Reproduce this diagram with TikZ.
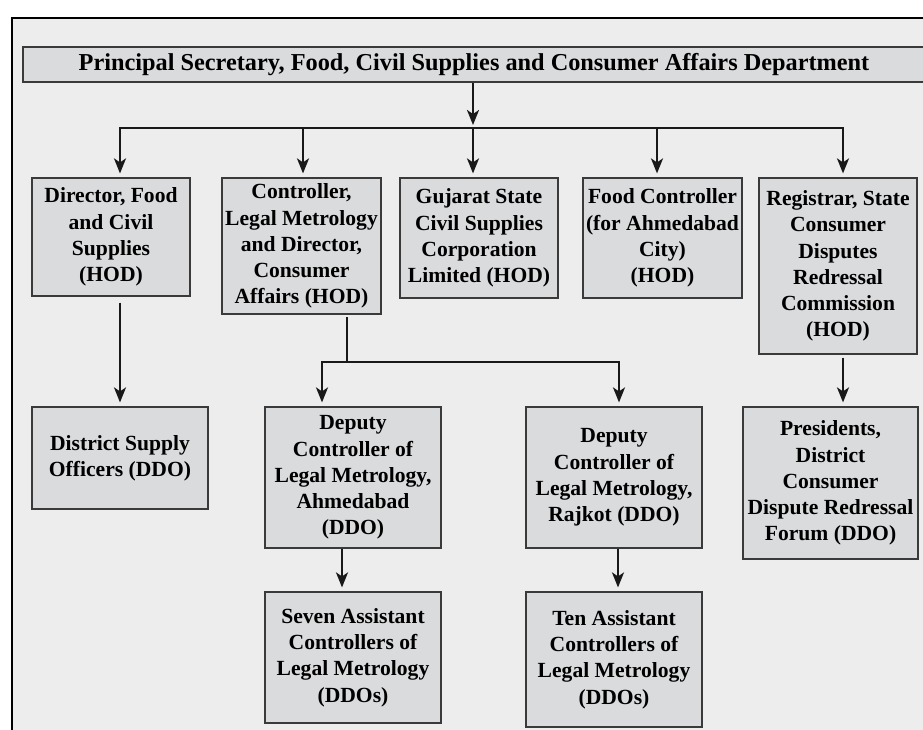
\documentclass[tikz,border=0pt]{standalone}
\usepackage{fontspec}
\setmainfont{Liberation Serif}
\usepackage{tikz}
\usetikzlibrary{arrows.meta}
\definecolor{pagegray}{HTML}{EDEDED}
\definecolor{boxgray}{HTML}{DADBDD}
\definecolor{edgegray}{HTML}{3A3A3A}
\tikzset{
    office/.style={draw=edgegray, fill=boxgray, line width=1.2pt, inner sep=0pt, align=center,
        font=\fontsize{21.6}{26.2}\selectfont\bfseries},
    link/.style={line width=2.2pt, draw=black!90, line cap=rect},
    arr/.style={line width=2.2pt, draw=black!90, -{Stealth[length=15pt, width=12pt, inset=4pt]},
        shorten >=4pt}}

\begin{document}
\begin{tikzpicture}[x=1pt, y=-1pt]

            \useasboundingbox (0,0) rectangle (923,729);
            \clip (0,0) rectangle (923,729);
            \draw[line width=2pt, fill=pagegray] (12,18) rectangle (945,750);

            \node[office, minimum width=902pt, minimum height=35pt, font=\fontsize{24.3}{28}\selectfont\bfseries] (P) at (474,64.5) {Principal Secretary, Food, Civil Supplies and Consumer Affairs Department};

            \node[office, minimum width=158pt, minimum height=118pt] (A) at (111,237) {Director, Food\\and Civil\\Supplies\\(HOD)};
            \node[office, minimum width=159pt, minimum height=136pt] (B) at (301.5,246) {Controller,\\Legal Metrology\\and Director,\\Consumer\\Affairs (HOD)};
            \node[office, minimum width=158pt, minimum height=120pt] (C) at (479,238) {Gujarat State\\Civil Supplies\\Corporation\\Limited (HOD)};
            \node[office, minimum width=159pt, minimum height=120pt] (D) at (662.5,238) {Food Controller\\(for Ahmedabad\\City)\\(HOD)};
            \node[office, minimum width=158pt, minimum height=176pt] (E) at (838,266) {Registrar, State\\Consumer\\Disputes\\Redressal\\Commission\\(HOD)};

            \node[office, minimum width=176pt, minimum height=102pt] (F) at (120,458) {District Supply\\Officers (DDO)};
            \node[office, minimum width=176pt, minimum height=141pt] (G) at (353,477.5) {Deputy\\Controller of\\Legal Metrology,\\Ahmedabad\\(DDO)};
            \node[office, minimum width=176pt, minimum height=141pt] (H) at (614,477.5) {Deputy\\Controller of\\Legal Metrology,\\Rajkot (DDO)};
            \node[office, minimum width=175pt, minimum height=152pt] (I) at (830.5,483) {Presidents,\\District\\Consumer\\Dispute Redressal\\Forum (DDO)};

            \node[office, minimum width=176pt, minimum height=131pt] (J) at (353,657.5) {Seven Assistant\\Controllers of\\Legal Metrology\\(DDOs)};
            \node[office, minimum width=176pt, minimum height=135pt] (K) at (614,659.5) {Ten Assistant\\Controllers of\\Legal Metrology\\(DDOs)};

            \coordinate (bus) at (473,128);
            \coordinate (tA) at (120,128);
            \coordinate (tB) at (303,128);
            \coordinate (tD) at (657,128);
            \coordinate (tE) at (843,128);
            \coordinate (bB) at (347,362);
            \coordinate (bG) at (322,362);
            \coordinate (bH) at (619,362);
            \coordinate (cG) at (342,570);
            \coordinate (cH) at (618,570);

            \draw[arr, shorten >=3pt] (P.south -| bus) -- (bus);
            \draw[link] (tA) -- (tE);
            \draw[arr] (tA) -- (tA |- A.north);
            \draw[arr] (tB) -- (tB |- B.north);
            \draw[arr] (bus) -- (bus |- C.north);
            \draw[arr] (tD) -- (tD |- D.north);
            \draw[arr] (tE) -- (tE |- E.north);

            \draw[arr, shorten <=6pt] (tA |- A.south) -- (tA |- F.north);
            \draw[link, shorten <=3pt] (bB |- B.south) -- (bB);
            \draw[link] (bG) -- (bH);
            \draw[arr] (bG) -- (bG |- G.north);
            \draw[arr] (bH) -- (bH |- H.north);
            \draw[arr, shorten <=3pt] (tE |- E.south) -- (tE |- I.north);

            \draw[arr] (cG |- G.south) -- (cG |- J.north);
            \draw[arr] (cH |- H.south) -- (cH |- K.north);

\end{tikzpicture}
\end{document}
